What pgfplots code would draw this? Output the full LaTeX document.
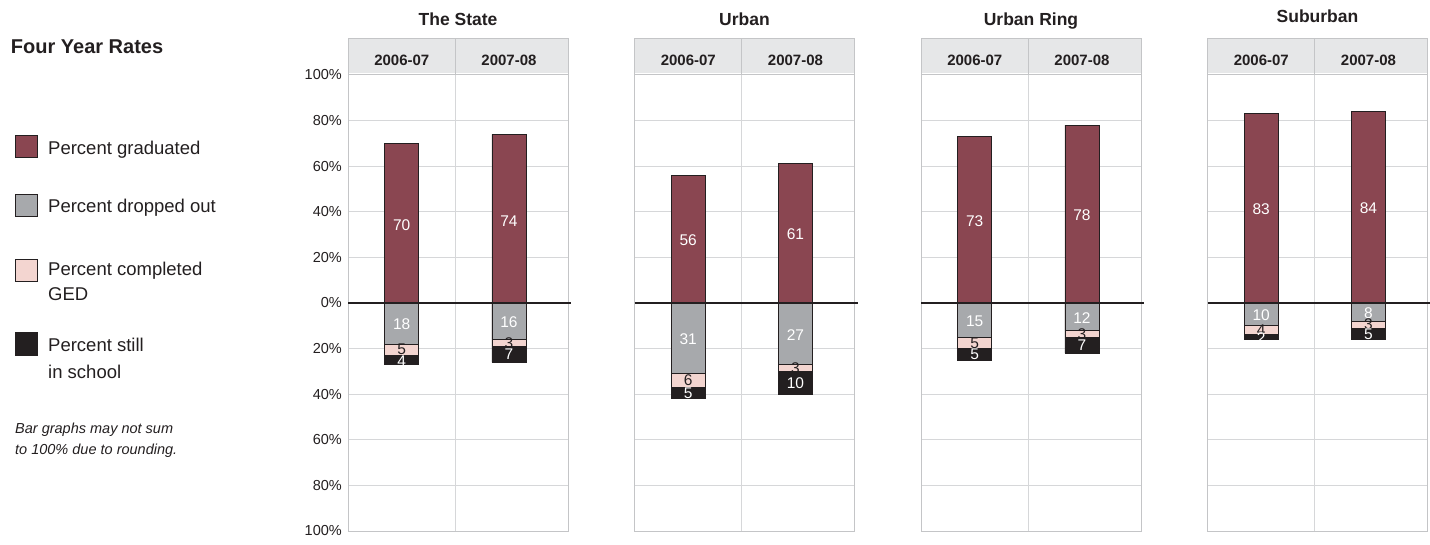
\documentclass[border=0pt]{standalone}
\usepackage{pgfplots}
\pgfplotsset{compat=1.18}
\usepackage{pgfplotstable}
\usepackage{fontspec}
\setmainfont{Liberation Sans}

\definecolor{gradc}{HTML}{8A4651}
\definecolor{dropc}{HTML}{A7A9AC}
\definecolor{gedc}{HTML}{F3D5D0}
\definecolor{schoolc}{HTML}{231F20}
\definecolor{headc}{HTML}{E6E7E8}
\definecolor{gridc}{HTML}{D6D7D9}
\definecolor{axisc}{HTML}{C4C5C7}
\definecolor{textc}{HTML}{231F20}

\newcommand\fs[1]{\fontsize{#1pt}{#1pt}\selectfont}

% x: 0 = 2006-07, 1 = 2007-08
\pgfplotstableread{
x grad drop ged school
0 70 18 5 4
1 74 16 3 7
}\statedata
\pgfplotstableread{
x grad drop ged school
0 56 31 6 5
1 61 27 3 10
}\urbandata
\pgfplotstableread{
x grad drop ged school
0 73 15 5 5
1 78 12 3 7
}\ringdata
\pgfplotstableread{
x grad drop ged school
0 83 10 4 2
1 84 8 3 5
}\suburbdata

\pgfplotsset{
  panel/.style={
    scale only axis, width=220pt, height=456pt, anchor=south west,
    xmin=-0.5, xmax=1.55, ymin=-100, ymax=100,
    ybar, bar width=34pt,
    xtick={0.5}, xticklabels={},
    ytick={-100,-80,...,100}, yticklabels={},
    xmajorgrids, ymajorgrids,
    tick style={draw=none}, major tick length=0pt,
    grid style={draw=gridc, line width=1pt},
    axis line style={draw=axisc, line width=1pt},
    clip=false,
  },
  seg/.style={draw=textc, line width=0.9pt, bar shift=0pt},
}

\tikzset{
  lw/.style={font=\fs{15.5}, text=white, inner sep=0pt, anchor=center},
  lb/.style={font=\fs{15.5}, text=textc, inner sep=0pt, anchor=center},
  colhead/.style={font=\fs{15}\bfseries, text=textc, inner sep=0pt, anchor=base},
  ptitle/.style={font=\fs{17.5}\bfseries, text=textc, inner sep=0pt, anchor=base},
}

% bars below zero are drawn as nested bars from 0 (largest first), so that
% each visible segment shows one category
\newcommand{\bars}[1]{%
  \addplot[seg, fill=gradc] table[x=x, y=grad]{#1};
  \addplot[seg, fill=schoolc] table[x=x, y expr=-(\thisrow{drop}+\thisrow{ged}+\thisrow{school})]{#1};
  \addplot[seg, fill=gedc] table[x=x, y expr=-(\thisrow{drop}+\thisrow{ged})]{#1};
  \addplot[seg, fill=dropc] table[x=x, y expr=-\thisrow{drop}]{#1};
}

\newcommand{\decor}[1]{%
  \fill[headc] (rel axis cs:0,1.004) rectangle (rel axis cs:1,1.0811);
  \draw[axisc, line width=1pt] (rel axis cs:0,1) rectangle (rel axis cs:1,1.0811);
  \draw[axisc, line width=1pt] (axis cs:0.5,100) -- ++(0pt,37pt);
  \node[colhead] at (rel axis cs:0.2445,1.0219) {2006-07};
  \node[colhead] at (rel axis cs:0.7317,1.0219) {2007-08};
  \draw[textc, line width=2.4pt] (axis cs:-0.5,0) -- (axis cs:1.58,0);
}

\begin{document}
\begin{tikzpicture}[x=1pt,y=1pt]
\useasboundingbox (0,0) rectangle (1430,-545);

% ---------- left legend ----------
\node[anchor=base west, font=\fs{20}\bfseries, text=textc, inner sep=0pt] at (10.7,-53.3) {Four Year Rates};

\filldraw[fill=gradc, draw=textc, line width=0.8pt] (15,-135) rectangle (37,-157.5);
\node[anchor=base west, font=\fs{18.5}, text=textc, inner sep=0pt] at (48,-155) {Percent graduated};

\filldraw[fill=dropc, draw=textc, line width=0.8pt] (15,-194) rectangle (37,-216);
\node[anchor=base west, font=\fs{18.5}, text=textc, inner sep=0pt] at (48,-212.7) {Percent dropped out};

\filldraw[fill=gedc, draw=textc, line width=0.8pt] (15,-259) rectangle (37,-281.5);
\node[anchor=base west, font=\fs{18.5}, text=textc, inner sep=0pt] at (48,-276) {Percent completed};
\node[anchor=base west, font=\fs{18.5}, text=textc, inner sep=0pt] at (48,-300.7) {GED};

\filldraw[fill=schoolc, draw=textc, line width=0.8pt] (15,-332) rectangle (37,-355);
\node[anchor=base west, font=\fs{18.5}, text=textc, inner sep=0pt] at (48,-351.7) {Percent still};
\node[anchor=base west, font=\fs{18.5}, text=textc, inner sep=0pt] at (48,-378.3) {in school};

\node[anchor=base west, font=\fs{14.5}\itshape, text=textc, inner sep=0pt] at (15,-433.3) {Bar graphs may not sum};
\node[anchor=base west, font=\fs{14.5}\itshape, text=textc, inner sep=0pt] at (15,-454) {to 100\% due to rounding.};

% ---------- The State ----------
\begin{axis}[panel, at={(348pt,-531pt)},
  yticklabels={100\%,80\%,60\%,40\%,20\%,0\%,20\%,40\%,60\%,80\%,100\%},
  yticklabel style={font=\fs{14.5}, text=textc, inner sep=0pt, xshift=-6pt}]
  \bars{\statedata}
  \decor{}
  \node[ptitle] at (rel axis cs:0.5,1.1096) {The State};
  \node[lw] at (axis cs:0,34) {70};
  \node[lw] at (axis cs:0,-9.5) {18};
  \node[lb] at (axis cs:0,-20.5) {5};
  \node[lw] at (axis cs:0,-25.5) {4};
  \node[lw] at (axis cs:1,36) {74};
  \node[lw] at (axis cs:1,-8.5) {16};
  \node[lb] at (axis cs:1,-17.5) {3};
  \node[lw] at (axis cs:1,-22.5) {7};
\end{axis}

% ---------- Urban ----------
\begin{axis}[panel, at={(634.5pt,-531pt)}]
  \bars{\urbandata}
  \decor{}
  \node[ptitle] at (rel axis cs:0.5,1.1096) {Urban};
  \node[lw] at (axis cs:0,27.5) {56};
  \node[lw] at (axis cs:0,-16) {31};
  \node[lb] at (axis cs:0,-34) {6};
  \node[lw] at (axis cs:0,-39.5) {5};
  \node[lw] at (axis cs:1,30) {61};
  \node[lw] at (axis cs:1,-14) {27};
  \node[lb] at (axis cs:1,-28.5) {3};
  \node[lw] at (axis cs:1,-35) {10};
\end{axis}

% ---------- Urban Ring ----------
\begin{axis}[panel, at={(921pt,-531pt)}]
  \bars{\ringdata}
  \decor{}
  \node[ptitle] at (rel axis cs:0.5,1.1096) {Urban Ring};
  \node[lw] at (axis cs:0,36) {73};
  \node[lw] at (axis cs:0,-8) {15};
  \node[lb] at (axis cs:0,-17.5) {5};
  \node[lw] at (axis cs:0,-22.5) {5};
  \node[lw] at (axis cs:1,38.5) {78};
  \node[lw] at (axis cs:1,-6.5) {12};
  \node[lb] at (axis cs:1,-13.5) {3};
  \node[lw] at (axis cs:1,-18.5) {7};
\end{axis}

% ---------- Suburban ----------
\begin{axis}[panel, at={(1207.5pt,-531pt)}]
  \bars{\suburbdata}
  \decor{}
  \node[ptitle] at (rel axis cs:0.5,1.1147) {Suburban};
  \node[lw] at (axis cs:0,41) {83};
  \node[lw] at (axis cs:0,-5.5) {10};
  \node[lb] at (axis cs:0,-12) {4};
  \node[lw] at (axis cs:0,-15.5) {2};
  \node[lw] at (axis cs:1,41.5) {84};
  \node[lw] at (axis cs:1,-4.5) {8};
  \node[lb] at (axis cs:1,-9.5) {3};
  \node[lw] at (axis cs:1,-13.5) {5};
\end{axis}
\end{tikzpicture}
\end{document}
